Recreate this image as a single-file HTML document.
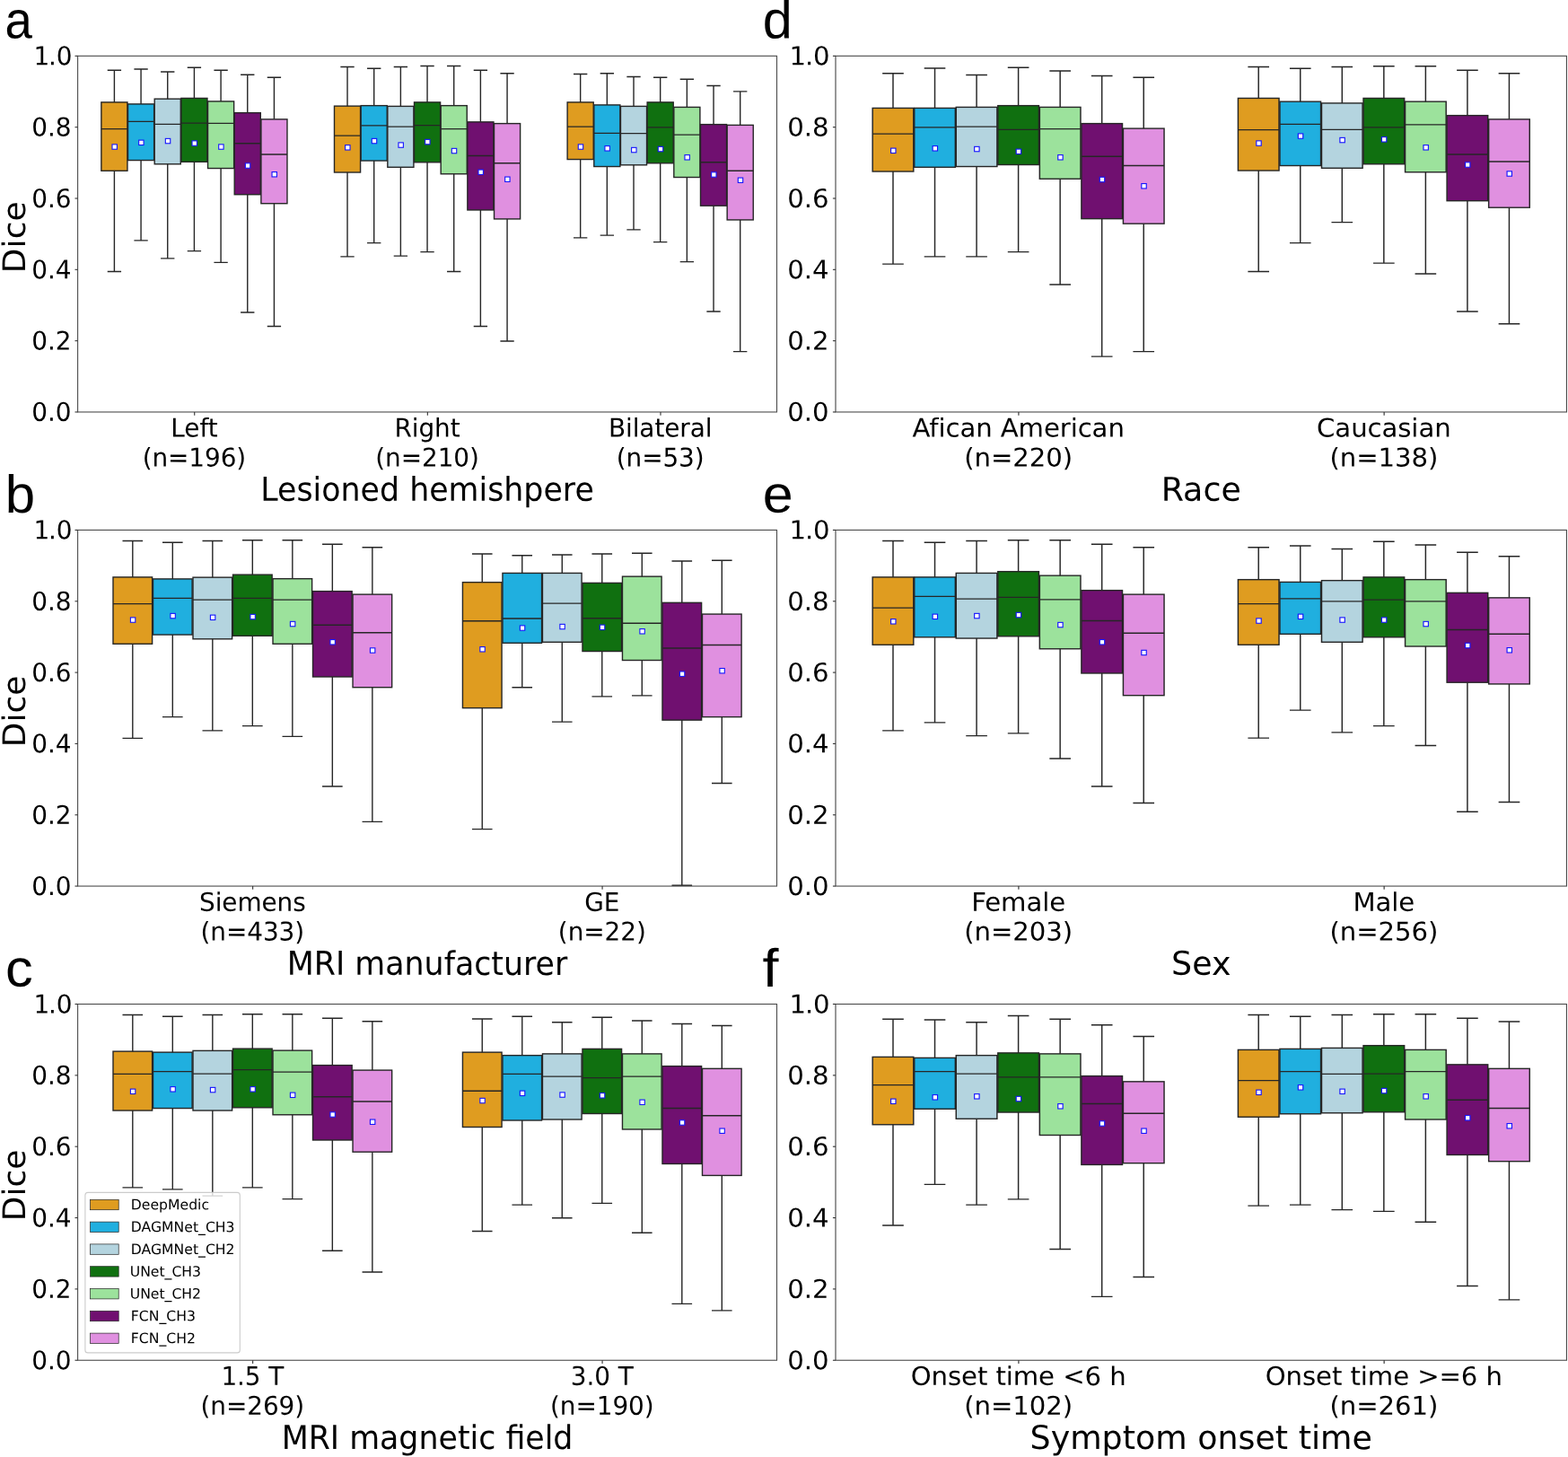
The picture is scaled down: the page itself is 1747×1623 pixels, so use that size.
<!DOCTYPE html>
<html lang="en"><head><meta charset="utf-8"><title>Dice box plots</title>
<style>
html,body{margin:0;padding:0;background:#fff;}
body{width:1747px;height:1623px;overflow:hidden;}
svg{display:block;}
text{font-family:"DejaVu Sans","Liberation Sans",sans-serif;fill:#000;}
.pl{font-family:"Liberation Sans","DejaVu Sans",sans-serif;font-size:58.8px;}
.tk{font-size:27.9px;letter-spacing:-0.08px;}
.lb{font-size:34.8px;}
.lg{font-size:15.65px;}
.ln{stroke:#262626;stroke-width:1.4;fill:none;}
.bx{stroke:#262626;stroke-width:1.4;}
.sp{stroke:#4c4c4c;stroke-width:1.1;fill:none;}
.tkm{stroke:#333;stroke-width:1.1;fill:none;}
.mk{fill:#fff;stroke:#1414ff;stroke-width:1.1;}
</style></head><body>
<svg width="1747" height="1623" viewBox="0 0 1747 1623">
<rect x="0" y="0" width="1747" height="1623" fill="#fff"/>
<g transform="translate(86.6,62.35) scale(1.00000,1)">
<rect class="bx" x="26.26" y="51.55" width="29.08" height="76.37" fill="#df9c20"/>
<rect class="bx" x="55.93" y="53.55" width="29.08" height="62.64" fill="#20afdf"/>
<rect class="bx" x="85.6" y="47.81" width="29.08" height="72.62" fill="#b4d4df"/>
<rect class="bx" x="115.28" y="47.06" width="29.08" height="70.88" fill="#107010"/>
<rect class="bx" x="144.95" y="50.55" width="29.08" height="74.62" fill="#9ce29c"/>
<rect class="bx" x="174.62" y="63.28" width="29.08" height="91.09" fill="#701070"/>
<rect class="bx" x="204.29" y="70.52" width="29.08" height="93.84" fill="#e090e0"/>
<rect class="bx" x="285.89" y="55.79" width="29.08" height="73.87" fill="#df9c20"/>
<rect class="bx" x="315.57" y="55.29" width="29.08" height="61.39" fill="#20afdf"/>
<rect class="bx" x="345.24" y="56.04" width="29.08" height="67.88" fill="#b4d4df"/>
<rect class="bx" x="374.91" y="51.55" width="29.08" height="66.88" fill="#107010"/>
<rect class="bx" x="404.58" y="55.29" width="29.08" height="76.12" fill="#9ce29c"/>
<rect class="bx" x="434.26" y="73.51" width="29.08" height="98.08" fill="#701070"/>
<rect class="bx" x="463.93" y="75.26" width="29.08" height="106.31" fill="#e090e0"/>
<rect class="bx" x="545.53" y="51.55" width="29.08" height="63.64" fill="#df9c20"/>
<rect class="bx" x="575.2" y="54.55" width="29.08" height="68.63" fill="#20afdf"/>
<rect class="bx" x="604.87" y="56.04" width="29.08" height="65.39" fill="#b4d4df"/>
<rect class="bx" x="634.54" y="51.55" width="29.08" height="67.88" fill="#107010"/>
<rect class="bx" x="664.22" y="57.04" width="29.08" height="78.11" fill="#9ce29c"/>
<rect class="bx" x="693.89" y="76.26" width="29.08" height="90.59" fill="#701070"/>
<rect class="bx" x="723.56" y="77.01" width="29.08" height="105.57" fill="#e090e0"/>
<path class="ln" d="M40.8 51.55V15.86M40.8 127.92V240.22M33.13 15.86H48.47M33.13 240.22H48.47M26.26 81.25H55.34"/>
<path class="ln" d="M70.47 53.55V14.62M70.47 116.19V205.53M62.8 14.62H78.14M62.8 205.53H78.14M55.93 73.01H85.01"/>
<path class="ln" d="M100.14 47.81V17.61M100.14 120.43V225.5M92.47 17.61H107.81M92.47 225.5H107.81M85.6 76.01H114.68"/>
<path class="ln" d="M129.82 47.06V12.87M129.82 117.93V217.26M122.15 12.87H137.49M122.15 217.26H137.49M115.28 74.76H144.36"/>
<path class="ln" d="M159.49 50.55V15.86M159.49 125.17V229.99M151.82 15.86H167.16M151.82 229.99H167.16M144.95 75.01H174.03"/>
<path class="ln" d="M189.16 63.28V20.85M189.16 154.37V285.64M181.49 20.85H196.83M181.49 285.64H196.83M174.62 97.47H203.7"/>
<path class="ln" d="M218.83 70.52V23.85M218.83 164.35V301.11M211.16 23.85H226.5M211.16 301.11H226.5M204.29 109.7H233.37"/>
<path class="ln" d="M300.43 55.79V12.12M300.43 129.66V223.5M292.76 12.12H308.1M292.76 223.5H308.1M285.89 88.74H314.97"/>
<path class="ln" d="M330.11 55.29V13.87M330.11 116.69V208.28M322.44 13.87H337.77M322.44 208.28H337.77M315.57 77.51H344.64"/>
<path class="ln" d="M359.78 56.04V12.12M359.78 123.92V222.75M352.11 12.12H367.45M352.11 222.75H367.45M345.24 78.75H374.32"/>
<path class="ln" d="M389.45 51.55V11.12M389.45 118.43V218.26M381.78 11.12H397.12M381.78 218.26H397.12M374.91 77.26H403.99"/>
<path class="ln" d="M419.12 55.29V11.12M419.12 131.41V240.22M411.45 11.12H426.79M411.45 240.22H426.79M404.58 81.25H433.66"/>
<path class="ln" d="M448.79 73.51V15.86M448.79 171.59V301.11M441.13 15.86H456.46M441.13 301.11H456.46M434.26 111.2H463.33"/>
<path class="ln" d="M478.47 75.26V19.36M478.47 181.57V317.58M470.8 19.36H486.14M470.8 317.58H486.14M463.93 119.43H493.01"/>
<path class="ln" d="M560.07 51.55V20.11M560.07 115.19V202.54M552.4 20.11H567.74M552.4 202.54H567.74M545.53 78.75H574.61"/>
<path class="ln" d="M589.74 54.55V19.36M589.74 123.18V199.79M582.07 19.36H597.41M582.07 199.79H597.41M575.2 85.99H604.28"/>
<path class="ln" d="M619.41 56.04V23.1M619.41 121.43V193.55M611.74 23.1H627.08M611.74 193.55H627.08M604.87 86.24H633.95"/>
<path class="ln" d="M649.08 51.55V23.85M649.08 119.43V207.28M641.41 23.85H656.75M641.41 207.28H656.75M634.54 79.5H663.62"/>
<path class="ln" d="M678.76 57.04V25.85M678.76 135.15V229.24M671.09 25.85H686.43M671.09 229.24H686.43M664.22 87.74H693.3"/>
<path class="ln" d="M708.43 76.26V33.08M708.43 166.85V284.64M700.76 33.08H716.1M700.76 284.64H716.1M693.89 118.43H722.97"/>
<path class="ln" d="M738.1 77.01V39.57M738.1 182.57V329.31M730.43 39.57H745.77M730.43 329.31H745.77M723.56 127.92H752.64"/>
<rect class="mk" x="38.4" y="98.51" width="5.4" height="5.4"/>
<rect class="mk" x="68.07" y="93.77" width="5.4" height="5.4"/>
<rect class="mk" x="97.74" y="92.02" width="5.4" height="5.4"/>
<rect class="mk" x="127.42" y="94.52" width="5.4" height="5.4"/>
<rect class="mk" x="157.09" y="98.51" width="5.4" height="5.4"/>
<rect class="mk" x="186.76" y="119.48" width="5.4" height="5.4"/>
<rect class="mk" x="216.43" y="129.21" width="5.4" height="5.4"/>
<rect class="mk" x="298.03" y="99.26" width="5.4" height="5.4"/>
<rect class="mk" x="327.71" y="92.02" width="5.4" height="5.4"/>
<rect class="mk" x="357.38" y="96.52" width="5.4" height="5.4"/>
<rect class="mk" x="387.05" y="93.02" width="5.4" height="5.4"/>
<rect class="mk" x="416.72" y="103.01" width="5.4" height="5.4"/>
<rect class="mk" x="446.39" y="126.71" width="5.4" height="5.4"/>
<rect class="mk" x="476.07" y="134.7" width="5.4" height="5.4"/>
<rect class="mk" x="557.67" y="98.51" width="5.4" height="5.4"/>
<rect class="mk" x="587.34" y="100.26" width="5.4" height="5.4"/>
<rect class="mk" x="617.01" y="102.01" width="5.4" height="5.4"/>
<rect class="mk" x="646.68" y="101.01" width="5.4" height="5.4"/>
<rect class="mk" x="676.36" y="110.24" width="5.4" height="5.4"/>
<rect class="mk" x="706.03" y="129.46" width="5.4" height="5.4"/>
<rect class="mk" x="735.7" y="135.7" width="5.4" height="5.4"/>
<rect class="sp" x="0" y="0" width="778.9" height="396.62"/>
<path class="tkm" d="M-3.1 396.62H0"/>
<text class="tk" text-anchor="end" transform="translate(-7.25,406.52) skewY(0.03) scale(1,1.02)">0.0</text>
<path class="tkm" d="M-3.1 317.3H0"/>
<text class="tk" text-anchor="end" transform="translate(-7.25,327.2) skewY(0.03) scale(1,1.02)">0.2</text>
<path class="tkm" d="M-3.1 237.97H0"/>
<text class="tk" text-anchor="end" transform="translate(-7.25,247.87) skewY(0.03) scale(1,1.02)">0.4</text>
<path class="tkm" d="M-3.1 158.65H0"/>
<text class="tk" text-anchor="end" transform="translate(-7.25,168.55) skewY(0.03) scale(1,1.02)">0.6</text>
<path class="tkm" d="M-3.1 79.32H0"/>
<text class="tk" text-anchor="end" transform="translate(-7.25,89.22) skewY(0.03) scale(1,1.02)">0.8</text>
<path class="tkm" d="M-3.1 0H0"/>
<text class="tk" text-anchor="end" transform="translate(-7.25,9.9) skewY(0.03) scale(1,1.02)"><tspan dx="1.1">1</tspan><tspan dx="-1.1">.0</tspan></text>
<path class="tkm" d="M130.12 396.62V400.32"/>
<text class="tk" text-anchor="middle" transform="translate(129.82,424.22) skewY(0.03) scale(1,1.02)">Left</text>
<text class="tk" text-anchor="middle" transform="translate(129.82,457.12) skewY(0.03) scale(1,1.02)">(n=196)</text>
<path class="tkm" d="M389.75 396.62V400.32"/>
<text class="tk" text-anchor="middle" transform="translate(389.45,424.22) skewY(0.03) scale(1,1.02)">Right</text>
<text class="tk" text-anchor="middle" transform="translate(389.45,457.12) skewY(0.03) scale(1,1.02)">(n=210)</text>
<path class="tkm" d="M649.38 396.62V400.32"/>
<text class="tk" text-anchor="middle" transform="translate(649.08,424.22) skewY(0.03) scale(1,1.02)">Bilateral</text>
<text class="tk" text-anchor="middle" transform="translate(649.08,457.12) skewY(0.03) scale(1,1.02)">(n=53)</text>
<text class="lb" text-anchor="middle" transform="translate(389.45,495.42) skewY(0.03) scale(1,1.05)">Lesioned hemishpere</text>
<text class="lb" text-anchor="middle" transform="translate(-58.7,201.91) rotate(-90.03) scale(1.036,1)">Dice</text>
</g>
<text class="pl" transform="translate(5.59,42.41) skewY(0.03) scale(0.929,0.994)">a</text>
<g transform="translate(86.6,590.45) scale(1.00000,1)">
<rect class="bx" x="39.39" y="52.45" width="43.62" height="74.37" fill="#df9c20"/>
<rect class="bx" x="83.9" y="54.45" width="43.62" height="62.14" fill="#20afdf"/>
<rect class="bx" x="128.41" y="52.7" width="43.62" height="68.63" fill="#b4d4df"/>
<rect class="bx" x="172.92" y="49.7" width="43.62" height="68.13" fill="#107010"/>
<rect class="bx" x="217.42" y="54.2" width="43.62" height="72.62" fill="#9ce29c"/>
<rect class="bx" x="261.93" y="68.17" width="43.62" height="95.33" fill="#701070"/>
<rect class="bx" x="306.44" y="71.67" width="43.62" height="103.57" fill="#e090e0"/>
<rect class="bx" x="428.84" y="58.19" width="43.62" height="140" fill="#df9c20"/>
<rect class="bx" x="473.35" y="47.96" width="43.62" height="77.86" fill="#20afdf"/>
<rect class="bx" x="517.86" y="47.96" width="43.62" height="76.87" fill="#b4d4df"/>
<rect class="bx" x="562.37" y="58.94" width="43.62" height="76.12" fill="#107010"/>
<rect class="bx" x="606.87" y="51.7" width="43.62" height="93.34" fill="#9ce29c"/>
<rect class="bx" x="651.38" y="80.9" width="43.62" height="130.77" fill="#701070"/>
<rect class="bx" x="695.89" y="93.63" width="43.62" height="114.55" fill="#e090e0"/>
<path class="ln" d="M61.2 52.45V12.02M61.2 126.82V231.88M49.89 12.02H72.5M49.89 231.88H72.5M39.39 82.15H83.01"/>
<path class="ln" d="M105.71 54.45V13.77M105.71 116.59V208.18M94.4 13.77H117.01M94.4 208.18H117.01M83.9 75.91H127.52"/>
<path class="ln" d="M150.22 52.7V12.02M150.22 121.33V223.4M138.91 12.02H161.52M138.91 223.4H161.52M128.41 77.65H172.03"/>
<path class="ln" d="M194.72 49.7V11.27M194.72 117.83V218.16M183.42 11.27H206.03M183.42 218.16H206.03M172.92 75.91H216.53"/>
<path class="ln" d="M239.23 54.2V11.27M239.23 126.82V229.89M227.93 11.27H250.54M227.93 229.89H250.54M217.42 77.65H261.04"/>
<path class="ln" d="M283.74 68.17V15.76M283.74 163.5V285.54M272.44 15.76H295.05M272.44 285.54H295.05M261.93 105.86H305.55"/>
<path class="ln" d="M328.25 71.67V19.26M328.25 175.23V324.97M316.95 19.26H339.56M316.95 324.97H339.56M306.44 114.34H350.06"/>
<path class="ln" d="M450.65 58.19V26.49M450.65 198.19V333.21M439.34 26.49H461.95M439.34 333.21H461.95M428.84 101.36H472.46"/>
<path class="ln" d="M495.16 47.96V28.24M495.16 125.82V175.23M483.85 28.24H506.46M483.85 175.23H506.46M473.35 98.62H516.97"/>
<path class="ln" d="M539.67 47.96V27.49M539.67 124.82V213.67M528.36 27.49H550.97M528.36 213.67H550.97M517.86 81.65H561.48"/>
<path class="ln" d="M584.17 58.94V26.49M584.17 135.05V185.47M572.87 26.49H595.48M572.87 185.47H595.48M562.37 98.37H605.98"/>
<path class="ln" d="M628.68 51.7V25.75M628.68 145.04V184.47M617.38 25.75H639.99M617.38 184.47H639.99M606.87 103.86H650.49"/>
<path class="ln" d="M673.19 80.9V34.48M673.19 211.67V395.85M661.89 34.48H684.5M661.89 395.85H684.5M651.38 131.56H695"/>
<path class="ln" d="M717.7 93.63V33.73M717.7 208.18V282.05M706.4 33.73H729.01M706.4 282.05H729.01M695.89 128.07H739.51"/>
<rect class="mk" x="58.8" y="97.42" width="5.4" height="5.4"/>
<rect class="mk" x="103.31" y="92.92" width="5.4" height="5.4"/>
<rect class="mk" x="147.82" y="94.67" width="5.4" height="5.4"/>
<rect class="mk" x="192.33" y="93.92" width="5.4" height="5.4"/>
<rect class="mk" x="236.83" y="101.91" width="5.4" height="5.4"/>
<rect class="mk" x="281.34" y="122.12" width="5.4" height="5.4"/>
<rect class="mk" x="325.85" y="131.36" width="5.4" height="5.4"/>
<rect class="mk" x="448.25" y="130.11" width="5.4" height="5.4"/>
<rect class="mk" x="492.76" y="106.4" width="5.4" height="5.4"/>
<rect class="mk" x="537.27" y="104.9" width="5.4" height="5.4"/>
<rect class="mk" x="581.77" y="105.65" width="5.4" height="5.4"/>
<rect class="mk" x="626.28" y="110.14" width="5.4" height="5.4"/>
<rect class="mk" x="670.79" y="157.56" width="5.4" height="5.4"/>
<rect class="mk" x="715.3" y="154.07" width="5.4" height="5.4"/>
<rect class="sp" x="0" y="0" width="778.9" height="396.62"/>
<path class="tkm" d="M-3.1 396.62H0"/>
<text class="tk" text-anchor="end" transform="translate(-7.25,406.52) skewY(0.03) scale(1,1.02)">0.0</text>
<path class="tkm" d="M-3.1 317.3H0"/>
<text class="tk" text-anchor="end" transform="translate(-7.25,327.2) skewY(0.03) scale(1,1.02)">0.2</text>
<path class="tkm" d="M-3.1 237.97H0"/>
<text class="tk" text-anchor="end" transform="translate(-7.25,247.87) skewY(0.03) scale(1,1.02)">0.4</text>
<path class="tkm" d="M-3.1 158.65H0"/>
<text class="tk" text-anchor="end" transform="translate(-7.25,168.55) skewY(0.03) scale(1,1.02)">0.6</text>
<path class="tkm" d="M-3.1 79.32H0"/>
<text class="tk" text-anchor="end" transform="translate(-7.25,89.22) skewY(0.03) scale(1,1.02)">0.8</text>
<path class="tkm" d="M-3.1 0H0"/>
<text class="tk" text-anchor="end" transform="translate(-7.25,9.9) skewY(0.03) scale(1,1.02)"><tspan dx="1.1">1</tspan><tspan dx="-1.1">.0</tspan></text>
<path class="tkm" d="M195.03 396.62V400.32"/>
<text class="tk" text-anchor="middle" transform="translate(194.72,424.22) skewY(0.03) scale(1,1.02)">Siemens</text>
<text class="tk" text-anchor="middle" transform="translate(194.72,457.12) skewY(0.03) scale(1,1.02)">(n=433)</text>
<path class="tkm" d="M584.47 396.62V400.32"/>
<text class="tk" text-anchor="middle" transform="translate(584.17,424.22) skewY(0.03) scale(1,1.02)">GE</text>
<text class="tk" text-anchor="middle" transform="translate(584.17,457.12) skewY(0.03) scale(1,1.02)">(n=22)</text>
<text class="lb" text-anchor="middle" transform="translate(389.45,495.42) skewY(0.03) scale(1,1.05)">MRI manufacturer</text>
<text class="lb" text-anchor="middle" transform="translate(-58.7,201.91) rotate(-90.03) scale(1.036,1)">Dice</text>
</g>
<text class="pl" transform="translate(5.72,570.89) skewY(0.03) scale(1.020,1.008)">b</text>
<g transform="translate(86.6,1118.5) scale(1.00000,1)">
<rect class="bx" x="39.39" y="52.65" width="43.62" height="65.88" fill="#df9c20"/>
<rect class="bx" x="83.9" y="53.65" width="43.62" height="62.39" fill="#20afdf"/>
<rect class="bx" x="128.41" y="51.9" width="43.62" height="66.63" fill="#b4d4df"/>
<rect class="bx" x="172.92" y="49.65" width="43.62" height="65.64" fill="#107010"/>
<rect class="bx" x="217.42" y="51.65" width="43.62" height="71.62" fill="#9ce29c"/>
<rect class="bx" x="261.93" y="68.12" width="43.62" height="83.35" fill="#701070"/>
<rect class="bx" x="306.44" y="73.61" width="43.62" height="91.09" fill="#e090e0"/>
<rect class="bx" x="428.84" y="53.65" width="43.62" height="83.35" fill="#df9c20"/>
<rect class="bx" x="473.35" y="57.14" width="43.62" height="72.37" fill="#20afdf"/>
<rect class="bx" x="517.86" y="55.39" width="43.62" height="73.12" fill="#b4d4df"/>
<rect class="bx" x="562.37" y="49.9" width="43.62" height="72.12" fill="#107010"/>
<rect class="bx" x="606.87" y="55.39" width="43.62" height="84.1" fill="#9ce29c"/>
<rect class="bx" x="651.38" y="69.12" width="43.62" height="108.81" fill="#701070"/>
<rect class="bx" x="695.89" y="71.86" width="43.62" height="119.04" fill="#e090e0"/>
<path class="ln" d="M61.2 52.65V11.97M61.2 118.53V204.38M49.89 11.97H72.5M49.89 204.38H72.5M39.39 77.85H83.01"/>
<path class="ln" d="M105.71 53.65V13.72M105.71 116.04V206.38M94.4 13.72H117.01M94.4 206.38H117.01M83.9 75.11H127.52"/>
<path class="ln" d="M150.22 51.9V11.97M150.22 118.53V213.62M138.91 11.97H161.52M138.91 213.62H161.52M128.41 77.6H172.03"/>
<path class="ln" d="M194.72 49.65V11.22M194.72 115.29V204.38M183.42 11.22H206.03M183.42 204.38H206.03M172.92 73.11H216.53"/>
<path class="ln" d="M239.23 51.65V11.22M239.23 123.27V217.11M227.93 11.22H250.54M227.93 217.11H250.54M217.42 75.61H261.04"/>
<path class="ln" d="M283.74 68.12V15.71M283.74 151.48V274.76M272.44 15.71H295.05M272.44 274.76H295.05M261.93 103.31H305.55"/>
<path class="ln" d="M328.25 73.61V19.21M328.25 164.7V298.47M316.95 19.21H339.56M316.95 298.47H339.56M306.44 108.55H350.06"/>
<path class="ln" d="M450.65 53.65V16.46M450.65 137V253.05M439.34 16.46H461.95M439.34 253.05H461.95M428.84 96.82H472.46"/>
<path class="ln" d="M495.16 57.14V13.72M495.16 129.51V223.6M483.85 13.72H506.46M483.85 223.6H506.46M473.35 77.85H516.97"/>
<path class="ln" d="M539.67 55.39V20.21M539.67 128.52V238.32M528.36 20.21H550.97M528.36 238.32H550.97M517.86 80.6H561.48"/>
<path class="ln" d="M584.17 49.9V14.71M584.17 122.03V221.85M572.87 14.71H595.48M572.87 221.85H595.48M562.37 82.1H605.98"/>
<path class="ln" d="M628.68 55.39V18.46M628.68 139.5V254.79M617.38 18.46H639.99M617.38 254.79H639.99M606.87 80.6H650.49"/>
<path class="ln" d="M673.19 69.12V21.95M673.19 177.93V333.91M661.89 21.95H684.5M661.89 333.91H684.5M651.38 116.04H695"/>
<path class="ln" d="M717.7 71.86V23.95M717.7 190.91V341.39M706.4 23.95H729.01M706.4 341.39H729.01M695.89 124.27H739.51"/>
<rect class="mk" x="58.8" y="94.62" width="5.4" height="5.4"/>
<rect class="mk" x="103.31" y="92.12" width="5.4" height="5.4"/>
<rect class="mk" x="147.82" y="92.87" width="5.4" height="5.4"/>
<rect class="mk" x="192.33" y="92.12" width="5.4" height="5.4"/>
<rect class="mk" x="236.83" y="98.61" width="5.4" height="5.4"/>
<rect class="mk" x="281.34" y="120.33" width="5.4" height="5.4"/>
<rect class="mk" x="325.85" y="128.56" width="5.4" height="5.4"/>
<rect class="mk" x="448.25" y="104.85" width="5.4" height="5.4"/>
<rect class="mk" x="492.76" y="96.62" width="5.4" height="5.4"/>
<rect class="mk" x="537.27" y="98.36" width="5.4" height="5.4"/>
<rect class="mk" x="581.77" y="99.11" width="5.4" height="5.4"/>
<rect class="mk" x="626.28" y="106.6" width="5.4" height="5.4"/>
<rect class="mk" x="670.79" y="129.31" width="5.4" height="5.4"/>
<rect class="mk" x="715.3" y="138.54" width="5.4" height="5.4"/>
<rect x="8.3" y="209.9" width="172.4" height="178.5" rx="3" ry="3" fill="#fff" fill-opacity="0.8" stroke="#ccc" stroke-width="1.1"/>
<rect x="14" y="217.8" width="31.6" height="11.4" fill="#df9c20" stroke="#262626" stroke-width="0.7"/>
<text class="lg" transform="translate(59.2,228.8) skewY(0.03)">DeepMedic</text>
<rect x="14" y="242.6" width="31.6" height="11.4" fill="#20afdf" stroke="#262626" stroke-width="0.7"/>
<text class="lg" transform="translate(59.2,253.6) skewY(0.03)">DAGMNet_CH3</text>
<rect x="14" y="267.4" width="31.6" height="11.4" fill="#b4d4df" stroke="#262626" stroke-width="0.7"/>
<text class="lg" transform="translate(59.2,278.4) skewY(0.03)">DAGMNet_CH2</text>
<rect x="14" y="292.2" width="31.6" height="11.4" fill="#107010" stroke="#262626" stroke-width="0.7"/>
<text class="lg" transform="translate(58.1,303.2) skewY(0.03)">UNet_CH3</text>
<rect x="14" y="317" width="31.6" height="11.4" fill="#9ce29c" stroke="#262626" stroke-width="0.7"/>
<text class="lg" transform="translate(58.1,328) skewY(0.03)">UNet_CH2</text>
<rect x="14" y="341.8" width="31.6" height="11.4" fill="#701070" stroke="#262626" stroke-width="0.7"/>
<text class="lg" transform="translate(59.2,352.8) skewY(0.03)">FCN_CH3</text>
<rect x="14" y="366.6" width="31.6" height="11.4" fill="#e090e0" stroke="#262626" stroke-width="0.7"/>
<text class="lg" transform="translate(59.2,377.6) skewY(0.03)">FCN_CH2</text>
<rect class="sp" x="0" y="0" width="778.9" height="396.75"/>
<path class="tkm" d="M-3.1 396.75H0"/>
<text class="tk" text-anchor="end" transform="translate(-7.25,406.65) skewY(0.03) scale(1,1.02)">0.0</text>
<path class="tkm" d="M-3.1 317.4H0"/>
<text class="tk" text-anchor="end" transform="translate(-7.25,327.3) skewY(0.03) scale(1,1.02)">0.2</text>
<path class="tkm" d="M-3.1 238.05H0"/>
<text class="tk" text-anchor="end" transform="translate(-7.25,247.95) skewY(0.03) scale(1,1.02)">0.4</text>
<path class="tkm" d="M-3.1 158.7H0"/>
<text class="tk" text-anchor="end" transform="translate(-7.25,168.6) skewY(0.03) scale(1,1.02)">0.6</text>
<path class="tkm" d="M-3.1 79.35H0"/>
<text class="tk" text-anchor="end" transform="translate(-7.25,89.25) skewY(0.03) scale(1,1.02)">0.8</text>
<path class="tkm" d="M-3.1 0H0"/>
<text class="tk" text-anchor="end" transform="translate(-7.25,9.9) skewY(0.03) scale(1,1.02)"><tspan dx="1.1">1</tspan><tspan dx="-1.1">.0</tspan></text>
<path class="tkm" d="M195.03 396.75V400.45"/>
<text class="tk" text-anchor="middle" transform="translate(194.72,424.35) skewY(0.03) scale(1,1.02)">1.5 T</text>
<text class="tk" text-anchor="middle" transform="translate(194.72,457.25) skewY(0.03) scale(1,1.02)">(n=269)</text>
<path class="tkm" d="M584.47 396.75V400.45"/>
<text class="tk" text-anchor="middle" transform="translate(584.17,424.35) skewY(0.03) scale(1,1.02)">3.0 T</text>
<text class="tk" text-anchor="middle" transform="translate(584.17,457.25) skewY(0.03) scale(1,1.02)">(n=190)</text>
<text class="lb" text-anchor="middle" transform="translate(389.45,495.55) skewY(0.03) scale(1,1.05)">MRI magnetic field</text>
<text class="lb" text-anchor="middle" transform="translate(-58.7,201.97) rotate(-90.03) scale(1.036,1)">Dice</text>
</g>
<text class="pl" transform="translate(5.9,1098.86) skewY(0.03) scale(1.047,1.000)">c</text>
<g transform="translate(931,62.35) scale(1.04564,1)">
<rect class="bx" x="39.39" y="58.04" width="43.62" height="70.63" fill="#df9c20"/>
<rect class="bx" x="83.9" y="58.04" width="43.62" height="65.88" fill="#20afdf"/>
<rect class="bx" x="128.41" y="57.04" width="43.62" height="66.13" fill="#b4d4df"/>
<rect class="bx" x="172.92" y="55.29" width="43.62" height="65.88" fill="#107010"/>
<rect class="bx" x="217.42" y="57.04" width="43.62" height="79.86" fill="#9ce29c"/>
<rect class="bx" x="261.93" y="75.26" width="43.62" height="106.06" fill="#701070"/>
<rect class="bx" x="306.44" y="80.75" width="43.62" height="106.06" fill="#e090e0"/>
<rect class="bx" x="428.84" y="47.06" width="43.62" height="80.61" fill="#df9c20"/>
<rect class="bx" x="473.35" y="50.8" width="43.62" height="71.38" fill="#20afdf"/>
<rect class="bx" x="517.86" y="52.55" width="43.62" height="72.37" fill="#b4d4df"/>
<rect class="bx" x="562.37" y="47.06" width="43.62" height="73.37" fill="#107010"/>
<rect class="bx" x="606.87" y="50.8" width="43.62" height="78.61" fill="#9ce29c"/>
<rect class="bx" x="651.38" y="66.27" width="43.62" height="95.08" fill="#701070"/>
<rect class="bx" x="695.89" y="70.52" width="43.62" height="98.33" fill="#e090e0"/>
<path class="ln" d="M61.2 58.04V19.36M61.2 128.67V231.74M49.89 19.36H72.5M49.89 231.74H72.5M39.39 86.74H83.01"/>
<path class="ln" d="M105.71 58.04V13.62M105.71 123.92V223.5M94.4 13.62H117.01M94.4 223.5H117.01M83.9 79.5H127.52"/>
<path class="ln" d="M150.22 57.04V21.1M150.22 123.18V223.5M138.91 21.1H161.52M138.91 223.5H161.52M128.41 78.75H172.03"/>
<path class="ln" d="M194.72 55.29V12.87M194.72 121.18V218.26M183.42 12.87H206.03M183.42 218.26H206.03M172.92 82H216.53"/>
<path class="ln" d="M239.23 57.04V16.61M239.23 136.9V254.69M227.93 16.61H250.54M227.93 254.69H250.54M217.42 81.25H261.04"/>
<path class="ln" d="M283.74 75.26V22.1M283.74 181.32V334.8M272.44 22.1H295.05M272.44 334.8H295.05M261.93 111.94H305.55"/>
<path class="ln" d="M328.25 80.75V23.85M328.25 186.81V329.31M316.95 23.85H339.56M316.95 329.31H339.56M306.44 122.18H350.06"/>
<path class="ln" d="M450.65 47.06V12.12M450.65 127.67V240.22M439.34 12.12H461.95M439.34 240.22H461.95M428.84 82.25H472.46"/>
<path class="ln" d="M495.16 50.8V13.87M495.16 122.18V208.28M483.85 13.87H506.46M483.85 208.28H506.46M473.35 76.01H516.97"/>
<path class="ln" d="M539.67 52.55V12.12M539.67 124.92V185.32M528.36 12.12H550.97M528.36 185.32H550.97M517.86 82H561.48"/>
<path class="ln" d="M584.17 47.06V11.37M584.17 120.43V230.74M572.87 11.37H595.48M572.87 230.74H595.48M562.37 79.5H605.98"/>
<path class="ln" d="M628.68 50.8V11.37M628.68 129.41V242.72M617.38 11.37H639.99M617.38 242.72H639.99M606.87 76.51H650.49"/>
<path class="ln" d="M673.19 66.27V15.86M673.19 161.36V284.64M661.89 15.86H684.5M661.89 284.64H684.5M651.38 109.7H695"/>
<path class="ln" d="M717.7 70.52V19.36M717.7 168.85V298.37M706.4 19.36H729.01M706.4 298.37H729.01M695.89 117.68H739.51"/>
<rect class="mk" x="58.9" y="102.76" width="5.16" height="5.4"/>
<rect class="mk" x="103.41" y="100.26" width="5.16" height="5.4"/>
<rect class="mk" x="147.92" y="101.01" width="5.16" height="5.4"/>
<rect class="mk" x="192.43" y="103.75" width="5.16" height="5.4"/>
<rect class="mk" x="236.94" y="110.24" width="5.16" height="5.4"/>
<rect class="mk" x="281.45" y="134.95" width="5.16" height="5.4"/>
<rect class="mk" x="325.96" y="142.19" width="5.16" height="5.4"/>
<rect class="mk" x="448.35" y="94.52" width="5.16" height="5.4"/>
<rect class="mk" x="492.86" y="86.53" width="5.16" height="5.4"/>
<rect class="mk" x="537.37" y="91.03" width="5.16" height="5.4"/>
<rect class="mk" x="581.88" y="90.28" width="5.16" height="5.4"/>
<rect class="mk" x="626.39" y="99.26" width="5.16" height="5.4"/>
<rect class="mk" x="670.9" y="118.48" width="5.16" height="5.4"/>
<rect class="mk" x="715.41" y="128.46" width="5.16" height="5.4"/>
<rect class="sp" x="0" y="0" width="778.9" height="396.62"/>
<path class="tkm" d="M-2.96 396.62H0"/>
<text class="tk" text-anchor="end" transform="translate(-7.25,406.52) skewY(0.03) scale(1,1.02)">0.0</text>
<path class="tkm" d="M-2.96 317.3H0"/>
<text class="tk" text-anchor="end" transform="translate(-7.25,327.2) skewY(0.03) scale(1,1.02)">0.2</text>
<path class="tkm" d="M-2.96 237.97H0"/>
<text class="tk" text-anchor="end" transform="translate(-7.25,247.87) skewY(0.03) scale(1,1.02)">0.4</text>
<path class="tkm" d="M-2.96 158.65H0"/>
<text class="tk" text-anchor="end" transform="translate(-7.25,168.55) skewY(0.03) scale(1,1.02)">0.6</text>
<path class="tkm" d="M-2.96 79.32H0"/>
<text class="tk" text-anchor="end" transform="translate(-7.25,89.22) skewY(0.03) scale(1,1.02)">0.8</text>
<path class="tkm" d="M-2.96 0H0"/>
<text class="tk" text-anchor="end" transform="translate(-7.25,9.9) skewY(0.03) scale(1,1.02)"><tspan dx="1.1">1</tspan><tspan dx="-1.1">.0</tspan></text>
<path class="tkm" d="M195.01 396.62V400.32"/>
<text class="tk" text-anchor="middle" transform="translate(194.72,424.22) skewY(0.03) scale(1,1.02)">Afican American</text>
<text class="tk" text-anchor="middle" transform="translate(194.72,457.12) skewY(0.03) scale(1,1.02)">(n=220)</text>
<path class="tkm" d="M584.46 396.62V400.32"/>
<text class="tk" text-anchor="middle" transform="translate(584.17,424.22) skewY(0.03) scale(1,1.02)">Caucasian</text>
<text class="tk" text-anchor="middle" transform="translate(584.17,457.12) skewY(0.03) scale(1,1.02)">(n=138)</text>
<text class="lb" text-anchor="middle" transform="translate(389.45,495.42) skewY(0.03) scale(1,1.05)">Race</text>
</g>
<text class="pl" transform="translate(849.69,42.38) skewY(0.03) scale(1.010,1.000)">d</text>
<g transform="translate(931,590.45) scale(1.04564,1)">
<rect class="bx" x="39.39" y="52.45" width="43.62" height="75.37" fill="#df9c20"/>
<rect class="bx" x="83.9" y="52.45" width="43.62" height="66.88" fill="#20afdf"/>
<rect class="bx" x="128.41" y="47.96" width="43.62" height="72.62" fill="#b4d4df"/>
<rect class="bx" x="172.92" y="46.21" width="43.62" height="72.12" fill="#107010"/>
<rect class="bx" x="217.42" y="50.7" width="43.62" height="81.61" fill="#9ce29c"/>
<rect class="bx" x="261.93" y="67.17" width="43.62" height="92.34" fill="#701070"/>
<rect class="bx" x="306.44" y="71.67" width="43.62" height="112.55" fill="#e090e0"/>
<rect class="bx" x="428.84" y="55.19" width="43.62" height="72.62" fill="#df9c20"/>
<rect class="bx" x="473.35" y="57.94" width="43.62" height="57.9" fill="#20afdf"/>
<rect class="bx" x="517.86" y="56.19" width="43.62" height="68.63" fill="#b4d4df"/>
<rect class="bx" x="562.37" y="52.45" width="43.62" height="66.88" fill="#107010"/>
<rect class="bx" x="606.87" y="55.19" width="43.62" height="74.37" fill="#9ce29c"/>
<rect class="bx" x="651.38" y="69.92" width="43.62" height="99.83" fill="#701070"/>
<rect class="bx" x="695.89" y="75.41" width="43.62" height="96.08" fill="#e090e0"/>
<path class="ln" d="M61.2 52.45V12.02M61.2 127.82V223.4M49.89 12.02H72.5M49.89 223.4H72.5M39.39 86.64H83.01"/>
<path class="ln" d="M105.71 52.45V13.77M105.71 119.33V214.42M94.4 13.77H117.01M94.4 214.42H117.01M83.9 73.91H127.52"/>
<path class="ln" d="M150.22 47.96V12.02M150.22 120.58V229.14M138.91 12.02H161.52M138.91 229.14H161.52M128.41 76.66H172.03"/>
<path class="ln" d="M194.72 46.21V11.27M194.72 118.33V226.39M183.42 11.27H206.03M183.42 226.39H206.03M172.92 74.91H216.53"/>
<path class="ln" d="M239.23 50.7V11.27M239.23 132.31V254.59M227.93 11.27H250.54M227.93 254.59H250.54M217.42 77.41H261.04"/>
<path class="ln" d="M283.74 67.17V15.76M283.74 159.51V285.54M272.44 15.76H295.05M272.44 285.54H295.05M261.93 101.11H305.55"/>
<path class="ln" d="M328.25 71.67V19.26M328.25 184.22V304.01M316.95 19.26H339.56M316.95 304.01H339.56M306.44 114.84H350.06"/>
<path class="ln" d="M450.65 55.19V19.26M450.65 127.82V231.64M439.34 19.26H461.95M439.34 231.64H461.95M428.84 82.15H472.46"/>
<path class="ln" d="M495.16 57.94V17.51M495.16 115.84V200.69M483.85 17.51H506.46M483.85 200.69H506.46M473.35 76.41H516.97"/>
<path class="ln" d="M539.67 56.19V21M539.67 124.82V225.4M528.36 21H550.97M528.36 225.4H550.97M517.86 79.4H561.48"/>
<path class="ln" d="M584.17 52.45V12.77M584.17 119.33V218.16M572.87 12.77H595.48M572.87 218.16H595.48M562.37 77.65H605.98"/>
<path class="ln" d="M628.68 55.19V16.51M628.68 129.56V240.12M617.38 16.51H639.99M617.38 240.12H639.99M606.87 79.4H650.49"/>
<path class="ln" d="M673.19 69.92V24.75M673.19 169.74V313.74M661.89 24.75H684.5M661.89 313.74H684.5M651.38 111.1H695"/>
<path class="ln" d="M717.7 75.41V29.24M717.7 171.49V303.01M706.4 29.24H729.01M706.4 303.01H729.01M695.89 115.84H739.51"/>
<rect class="mk" x="58.9" y="99.16" width="5.16" height="5.4"/>
<rect class="mk" x="103.41" y="93.67" width="5.16" height="5.4"/>
<rect class="mk" x="147.92" y="92.92" width="5.16" height="5.4"/>
<rect class="mk" x="192.43" y="91.92" width="5.16" height="5.4"/>
<rect class="mk" x="236.94" y="102.91" width="5.16" height="5.4"/>
<rect class="mk" x="281.45" y="122.12" width="5.16" height="5.4"/>
<rect class="mk" x="325.96" y="133.85" width="5.16" height="5.4"/>
<rect class="mk" x="448.35" y="98.41" width="5.16" height="5.4"/>
<rect class="mk" x="492.86" y="93.67" width="5.16" height="5.4"/>
<rect class="mk" x="537.37" y="97.42" width="5.16" height="5.4"/>
<rect class="mk" x="581.88" y="97.42" width="5.16" height="5.4"/>
<rect class="mk" x="626.39" y="101.91" width="5.16" height="5.4"/>
<rect class="mk" x="670.9" y="125.87" width="5.16" height="5.4"/>
<rect class="mk" x="715.41" y="131.11" width="5.16" height="5.4"/>
<rect class="sp" x="0" y="0" width="778.9" height="396.62"/>
<path class="tkm" d="M-2.96 396.62H0"/>
<text class="tk" text-anchor="end" transform="translate(-7.25,406.52) skewY(0.03) scale(1,1.02)">0.0</text>
<path class="tkm" d="M-2.96 317.3H0"/>
<text class="tk" text-anchor="end" transform="translate(-7.25,327.2) skewY(0.03) scale(1,1.02)">0.2</text>
<path class="tkm" d="M-2.96 237.97H0"/>
<text class="tk" text-anchor="end" transform="translate(-7.25,247.87) skewY(0.03) scale(1,1.02)">0.4</text>
<path class="tkm" d="M-2.96 158.65H0"/>
<text class="tk" text-anchor="end" transform="translate(-7.25,168.55) skewY(0.03) scale(1,1.02)">0.6</text>
<path class="tkm" d="M-2.96 79.32H0"/>
<text class="tk" text-anchor="end" transform="translate(-7.25,89.22) skewY(0.03) scale(1,1.02)">0.8</text>
<path class="tkm" d="M-2.96 0H0"/>
<text class="tk" text-anchor="end" transform="translate(-7.25,9.9) skewY(0.03) scale(1,1.02)"><tspan dx="1.1">1</tspan><tspan dx="-1.1">.0</tspan></text>
<path class="tkm" d="M195.01 396.62V400.32"/>
<text class="tk" text-anchor="middle" transform="translate(194.72,424.22) skewY(0.03) scale(1,1.02)">Female</text>
<text class="tk" text-anchor="middle" transform="translate(194.72,457.12) skewY(0.03) scale(1,1.02)">(n=203)</text>
<path class="tkm" d="M584.46 396.62V400.32"/>
<text class="tk" text-anchor="middle" transform="translate(584.17,424.22) skewY(0.03) scale(1,1.02)">Male</text>
<text class="tk" text-anchor="middle" transform="translate(584.17,457.12) skewY(0.03) scale(1,1.02)">(n=256)</text>
<text class="lb" text-anchor="middle" transform="translate(389.45,495.42) skewY(0.03) scale(1,1.05)">Sex</text>
</g>
<text class="pl" transform="translate(849.7,570.71) skewY(0.03) scale(1.036,0.996)">e</text>
<g transform="translate(931,1118.5) scale(1.04564,1)">
<rect class="bx" x="39.39" y="58.89" width="43.62" height="75.37" fill="#df9c20"/>
<rect class="bx" x="83.9" y="59.89" width="43.62" height="56.9" fill="#20afdf"/>
<rect class="bx" x="128.41" y="57.14" width="43.62" height="70.63" fill="#b4d4df"/>
<rect class="bx" x="172.92" y="54.4" width="43.62" height="66.13" fill="#107010"/>
<rect class="bx" x="217.42" y="55.39" width="43.62" height="90.59" fill="#9ce29c"/>
<rect class="bx" x="261.93" y="80.1" width="43.62" height="98.83" fill="#701070"/>
<rect class="bx" x="306.44" y="86.34" width="43.62" height="90.84" fill="#e090e0"/>
<rect class="bx" x="428.84" y="50.9" width="43.62" height="74.87" fill="#df9c20"/>
<rect class="bx" x="473.35" y="49.9" width="43.62" height="72.37" fill="#20afdf"/>
<rect class="bx" x="517.86" y="48.9" width="43.62" height="72.37" fill="#b4d4df"/>
<rect class="bx" x="562.37" y="46.16" width="43.62" height="74.12" fill="#107010"/>
<rect class="bx" x="606.87" y="50.9" width="43.62" height="77.61" fill="#9ce29c"/>
<rect class="bx" x="651.38" y="67.37" width="43.62" height="100.57" fill="#701070"/>
<rect class="bx" x="695.89" y="71.86" width="43.62" height="103.32" fill="#e090e0"/>
<path class="ln" d="M61.2 58.89V16.71M61.2 134.26V246.56M49.89 16.71H72.5M49.89 246.56H72.5M39.39 90.08H83.01"/>
<path class="ln" d="M105.71 59.89V17.46M105.71 116.79V200.89M94.4 17.46H117.01M94.4 200.89H117.01M83.9 75.11H127.52"/>
<path class="ln" d="M150.22 57.14V20.21M150.22 127.77V223.6M138.91 20.21H161.52M138.91 223.6H161.52M128.41 77.6H172.03"/>
<path class="ln" d="M194.72 54.4V12.97M194.72 120.53V217.36M183.42 12.97H206.03M183.42 217.36H206.03M172.92 81.35H216.53"/>
<path class="ln" d="M239.23 55.39V16.71M239.23 145.98V273.01M227.93 16.71H250.54M227.93 273.01H250.54M217.42 81.35H261.04"/>
<path class="ln" d="M283.74 80.1V23.2M283.74 178.93V325.92M272.44 23.2H295.05M272.44 325.92H295.05M261.93 111.05H305.55"/>
<path class="ln" d="M328.25 86.34V35.93M328.25 177.18V303.96M316.95 35.93H339.56M316.95 303.96H339.56M306.44 121.78H350.06"/>
<path class="ln" d="M450.65 50.9V11.97M450.65 125.77V224.6M439.34 11.97H461.95M439.34 224.6H461.95M428.84 85.09H472.46"/>
<path class="ln" d="M495.16 49.9V13.72M495.16 122.28V223.6M483.85 13.72H506.46M483.85 223.6H506.46M473.35 75.11H516.97"/>
<path class="ln" d="M539.67 48.9V11.97M539.67 121.28V229.09M528.36 11.97H550.97M528.36 229.09H550.97M517.86 77.85H561.48"/>
<path class="ln" d="M584.17 46.16V11.22M584.17 120.28V230.84M572.87 11.22H595.48M572.87 230.84H595.48M562.37 77.6H605.98"/>
<path class="ln" d="M628.68 50.9V11.22M628.68 128.52V242.82M617.38 11.22H639.99M617.38 242.82H639.99M606.87 75.11H650.49"/>
<path class="ln" d="M673.19 67.37V15.71M673.19 167.95V313.94M661.89 15.71H684.5M661.89 313.94H684.5M651.38 106.8H695"/>
<path class="ln" d="M717.7 71.86V19.46M717.7 175.18V329.41M706.4 19.46H729.01M706.4 329.41H729.01M695.89 116.04H739.51"/>
<rect class="mk" x="58.9" y="105.6" width="5.16" height="5.4"/>
<rect class="mk" x="103.41" y="101.11" width="5.16" height="5.4"/>
<rect class="mk" x="147.92" y="100.11" width="5.16" height="5.4"/>
<rect class="mk" x="192.43" y="102.86" width="5.16" height="5.4"/>
<rect class="mk" x="236.94" y="111.09" width="5.16" height="5.4"/>
<rect class="mk" x="281.45" y="130.31" width="5.16" height="5.4"/>
<rect class="mk" x="325.96" y="138.54" width="5.16" height="5.4"/>
<rect class="mk" x="448.35" y="95.62" width="5.16" height="5.4"/>
<rect class="mk" x="492.86" y="90.13" width="5.16" height="5.4"/>
<rect class="mk" x="537.37" y="94.62" width="5.16" height="5.4"/>
<rect class="mk" x="581.88" y="93.87" width="5.16" height="5.4"/>
<rect class="mk" x="626.39" y="100.11" width="5.16" height="5.4"/>
<rect class="mk" x="670.9" y="124.07" width="5.16" height="5.4"/>
<rect class="mk" x="715.41" y="133.05" width="5.16" height="5.4"/>
<rect class="sp" x="0" y="0" width="778.9" height="396.75"/>
<path class="tkm" d="M-2.96 396.75H0"/>
<text class="tk" text-anchor="end" transform="translate(-7.25,406.65) skewY(0.03) scale(1,1.02)">0.0</text>
<path class="tkm" d="M-2.96 317.4H0"/>
<text class="tk" text-anchor="end" transform="translate(-7.25,327.3) skewY(0.03) scale(1,1.02)">0.2</text>
<path class="tkm" d="M-2.96 238.05H0"/>
<text class="tk" text-anchor="end" transform="translate(-7.25,247.95) skewY(0.03) scale(1,1.02)">0.4</text>
<path class="tkm" d="M-2.96 158.7H0"/>
<text class="tk" text-anchor="end" transform="translate(-7.25,168.6) skewY(0.03) scale(1,1.02)">0.6</text>
<path class="tkm" d="M-2.96 79.35H0"/>
<text class="tk" text-anchor="end" transform="translate(-7.25,89.25) skewY(0.03) scale(1,1.02)">0.8</text>
<path class="tkm" d="M-2.96 0H0"/>
<text class="tk" text-anchor="end" transform="translate(-7.25,9.9) skewY(0.03) scale(1,1.02)"><tspan dx="1.1">1</tspan><tspan dx="-1.1">.0</tspan></text>
<path class="tkm" d="M195.01 396.75V400.45"/>
<text class="tk" text-anchor="middle" transform="translate(194.72,424.35) skewY(0.03) scale(1,1.02)">Onset time &lt;6 h</text>
<text class="tk" text-anchor="middle" transform="translate(194.72,457.25) skewY(0.03) scale(1,1.02)">(n=102)</text>
<path class="tkm" d="M584.46 396.75V400.45"/>
<text class="tk" text-anchor="middle" transform="translate(584.17,424.35) skewY(0.03) scale(1,1.02)">Onset time &gt;=6 h</text>
<text class="tk" text-anchor="middle" transform="translate(584.17,457.25) skewY(0.03) scale(1,1.02)">(n=261)</text>
<text class="lb" text-anchor="middle" transform="translate(389.45,495.55) skewY(0.03) scale(1,1.05)">Symptom onset time</text>
</g>
<text class="pl" transform="translate(849.39,1098.95) skewY(0.03) scale(1.100,1.017)">f</text>
</svg></body></html>
